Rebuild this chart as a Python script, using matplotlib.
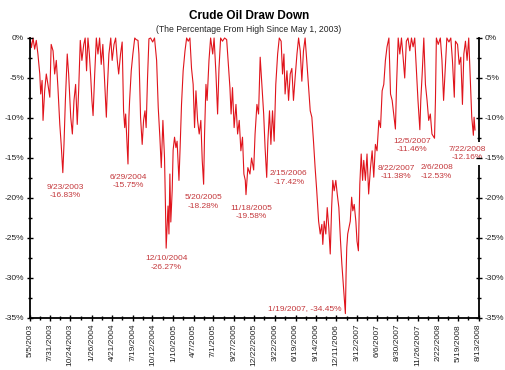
import pandas as pd
import matplotlib
matplotlib.use('Agg')
import matplotlib.pyplot as plt
from matplotlib.ticker import FixedLocator, MultipleLocator, FuncFormatter

plt.rcParams['font.family'] = ['Liberation Sans', 'DejaVu Sans']

# drawdown series (percent below running high)
dates = [
    '2003-05-05', '2003-05-11', '2003-05-18', '2003-05-25', '2003-06-01', '2003-06-08', '2003-06-16',
    '2003-06-20', '2003-06-26', '2003-06-30', '2003-07-07', '2003-07-14', '2003-07-21', '2003-07-29',
    '2003-08-04', '2003-08-12', '2003-08-19', '2003-08-26', '2003-09-02', '2003-09-10', '2003-09-16',
    '2003-09-23', '2003-09-28', '2003-10-04', '2003-10-12', '2003-10-18', '2003-10-27', '2003-11-03',
    '2003-11-10', '2003-11-17', '2003-11-24', '2003-11-30', '2003-12-07', '2003-12-14', '2003-12-22',
    '2003-12-28', '2004-01-03', '2004-01-09', '2004-01-15', '2004-01-21', '2004-01-26', '2004-01-31',
    '2004-02-07', '2004-02-14', '2004-02-21', '2004-02-28', '2004-03-06', '2004-03-13', '2004-03-21',
    '2004-03-28', '2004-04-01', '2004-04-08', '2004-04-16', '2004-04-22', '2004-04-30', '2004-05-07',
    '2004-05-14', '2004-05-20', '2004-05-28', '2004-06-04', '2004-06-10', '2004-06-15', '2004-06-19',
    '2004-06-23', '2004-06-29', '2004-07-03', '2004-07-06', '2004-07-13', '2004-07-20', '2004-07-28',
    '2004-08-03', '2004-08-11', '2004-08-15', '2004-08-22', '2004-08-29', '2004-09-04', '2004-09-10',
    '2004-09-15', '2004-09-21', '2004-09-27', '2004-10-04', '2004-10-13', '2004-10-21', '2004-10-30',
    '2004-11-06', '2004-11-13', '2004-11-19', '2004-11-26', '2004-12-03', '2004-12-07', '2004-12-10',
    '2004-12-18', '2004-12-22', '2004-12-26', '2004-12-30', '2005-01-05', '2005-01-09', '2005-01-15',
    '2005-01-21', '2005-01-26', '2005-02-03', '2005-02-08', '2005-02-14', '2005-02-21', '2005-03-01',
    '2005-03-08', '2005-03-15', '2005-03-22', '2005-03-29', '2005-04-05', '2005-04-11', '2005-04-17',
    '2005-04-24', '2005-05-01', '2005-05-08', '2005-05-14', '2005-05-20', '2005-05-24', '2005-05-30',
    '2005-06-04', '2005-06-12', '2005-06-19', '2005-06-28', '2005-07-04', '2005-07-12', '2005-07-19',
    '2005-07-25', '2005-08-01', '2005-08-09', '2005-08-18', '2005-08-27', '2005-09-02', '2005-09-10',
    '2005-09-15', '2005-09-21', '2005-09-28', '2005-10-06', '2005-10-13', '2005-10-20', '2005-10-27',
    '2005-11-03', '2005-11-09', '2005-11-15', '2005-11-18', '2005-11-26', '2005-12-05', '2005-12-12',
    '2005-12-21', '2005-12-27', '2006-01-04', '2006-01-11', '2006-01-18', '2006-01-25', '2006-02-02',
    '2006-02-08', '2006-02-15', '2006-02-20', '2006-02-27', '2006-03-05', '2006-03-12', '2006-03-19',
    '2006-03-26', '2006-04-03', '2006-04-10', '2006-04-18', '2006-04-24', '2006-04-30', '2006-05-05',
    '2006-05-13', '2006-05-20', '2006-05-27', '2006-06-03', '2006-06-10', '2006-06-17', '2006-06-25',
    '2006-07-02', '2006-07-09', '2006-07-16', '2006-07-23', '2006-07-30', '2006-08-06', '2006-08-14',
    '2006-08-21', '2006-08-28', '2006-09-04', '2006-09-11', '2006-09-18', '2006-09-26', '2006-10-03',
    '2006-10-10', '2006-10-14', '2006-10-20', '2006-10-27', '2006-11-02', '2006-11-09', '2006-11-15',
    '2006-11-21', '2006-11-26', '2006-12-02', '2006-12-09', '2006-12-15', '2006-12-22', '2006-12-29',
    '2007-01-04', '2007-01-11', '2007-01-19', '2007-01-22', '2007-01-25', '2007-01-29', '2007-02-03',
    '2007-02-09', '2007-02-15', '2007-02-20', '2007-02-26', '2007-03-05', '2007-03-10', '2007-03-16',
    '2007-03-22', '2007-03-28', '2007-04-03', '2007-04-08', '2007-04-15', '2007-04-22', '2007-04-29',
    '2007-05-07', '2007-05-14', '2007-05-21', '2007-05-28', '2007-06-04', '2007-06-12', '2007-06-19',
    '2007-06-26', '2007-07-03', '2007-07-10', '2007-07-17', '2007-07-25', '2007-08-01', '2007-08-08',
    '2007-08-22', '2007-08-27', '2007-09-03', '2007-09-10', '2007-09-17', '2007-09-24', '2007-10-01',
    '2007-10-08', '2007-10-15', '2007-10-23', '2007-10-30', '2007-11-06', '2007-11-13', '2007-11-20',
    '2007-11-27', '2007-12-05', '2007-12-09', '2007-12-15', '2007-12-22', '2007-12-29', '2008-01-05',
    '2008-01-12', '2008-01-19', '2008-01-26', '2008-02-06', '2008-02-10', '2008-02-14', '2008-02-22',
    '2008-03-02', '2008-03-09', '2008-03-16', '2008-03-23', '2008-03-30', '2008-04-08', '2008-04-16',
    '2008-04-23', '2008-05-01', '2008-05-06', '2008-05-15', '2008-05-22', '2008-05-29', '2008-06-05',
    '2008-06-11', '2008-06-18', '2008-06-25', '2008-07-02', '2008-07-09', '2008-07-15', '2008-07-22',
    '2008-07-25', '2008-07-29',
]
drawdown = [
    0.0, -1.2, 0.0, -1.4, -0.3, -2.0, -4.5,
    -7.0, -5.3, -10.3, -6.6, -4.5, -5.8, -7.4,
    -0.8, -1.6, -4.5, -2.8, -6.2, -10.8, -13.3,
    -16.83, -13.3, -7.8, -2.0, -4.5, -9.9, -12.0,
    -7.8, -5.8, -10.8, -6.6, -0.3, -2.8, -0.8,
    0.0, -4.1, 0.0, -2.0, -4.9, -7.8, -9.7,
    -4.5, 0.0, -2.0, 0.0, -3.3, -0.8, -5.8,
    -9.9, -6.6, -2.0, 0.0, -2.8, -0.8, 0.0,
    -2.8, -4.5, -2.0, -0.5, -9.1, -11.2, -9.5,
    -12.0, -15.75, -9.9, -7.8, -4.1, -2.0, 0.0,
    -0.2, -0.3, -2.0, -9.9, -13.3, -10.3, -9.1,
    -11.2, -5.0, -0.1, 0.0, -0.5, 0.0, -2.8,
    -8.7, -12.4, -16.2, -10.3, -15.0, -21.0, -26.27,
    -21.0, -24.5, -17.0, -23.0, -19.0, -14.0, -12.4,
    -13.7, -12.9, -17.8, -13.7, -8.3, -4.1, -1.6,
    0.0, -0.4, 0.0, -3.8, -5.8, -11.2, -6.6,
    -10.3, -12.0, -10.3, -15.3, -18.28, -12.0, -5.8,
    -7.8, -2.8, 0.0, -2.0, 0.0, -4.5, -9.5,
    -3.8, 0.0, -0.4, 0.0, -0.2, -2.8, -6.2,
    -9.5, -6.2, -11.2, -8.3, -12.0, -10.3, -14.1,
    -12.4, -17.0, -17.8, -19.58, -16.2, -17.0, -15.0,
    -16.5, -12.0, -8.3, -9.5, -2.4, -5.8, -9.5,
    -13.7, -17.42, -12.9, -9.1, -13.3, -9.1, -12.9,
    -5.8, -2.0, 0.0, -0.4, -4.5, -2.0, -7.0,
    -4.1, -7.8, -4.5, -3.8, -7.8, -5.0, -2.0,
    0.0, -1.6, -5.4, -1.6, 0.0, -2.8, -6.2,
    -9.1, -9.9, -12.9, -16.2, -19.1, -22.9, -24.5,
    -23.3, -25.8, -22.9, -24.5, -21.2, -23.8, -27.0,
    -21.2, -17.8, -19.1, -17.8, -19.5, -21.2, -25.3,
    -28.3, -31.2, -34.45, -29.5, -26.2, -24.5, -23.8,
    -22.9, -19.9, -21.6, -20.8, -22.9, -25.4, -26.6,
    -18.3, -14.5, -17.8, -15.3, -17.8, -14.5, -19.5,
    -16.2, -14.1, -17.4, -13.3, -14.1, -10.3, -11.2,
    -6.6, -5.8, -2.8, -1.1, 0.0, -7.0, -7.8,
    -11.38, -5.8, 0.0, -2.0, 0.0, -2.4, -5.0,
    -0.4, 0.0, -1.6, 0.0, -1.1, 0.0, -3.8,
    -7.8, -11.46, -7.8, -4.5, 0.0, -5.8, -7.8,
    -10.3, -9.5, -12.0, -12.53, -7.8, 0.0, -0.8,
    0.0, -2.8, -7.8, -3.8, 0.0, -0.5, 0.0,
    -2.8, -7.4, -0.4, -0.8, -3.3, -2.4, -8.3,
    -2.0, -0.4, -2.8, 0.0, -5.4, -9.9, -12.16,
    -9.9, -11.5,
]

tick_labels = ['5/5/2003', '7/31/2003', '10/24/2003', '1/26/2004', '4/21/2004', '7/19/2004',
               '10/12/2004', '1/10/2005', '4/7/2005', '7/1/2005', '9/27/2005', '12/22/2005',
               '3/22/2006', '6/19/2006', '9/14/2006', '12/11/2006', '3/12/2007', '6/6/2007',
               '8/30/2007', '11/26/2007', '2/22/2008', '5/19/2008', '8/13/2008']

# labelled lows
ann_dates = ['9/23/2003', '6/29/2004', '12/10/2004', '5/20/2005', '11/18/2005', '2/15/2006',
             '1/19/2007', '8/22/2007', '12/5/2007', '2/6/2008', '7/22/2008']
ann_values = [-16.83, -15.75, -26.27, -18.28, -19.58, -17.42, -34.45, -11.38, -11.46, -12.53, -12.16]
# label offsets in pixels (dx, dy) from the low
ann_offsets = [(2, -19), (0, -17.5), (0, -15), (-0.5, -18), (5, -18), (22, -0.5),
               (-3.5, 5.5), (1, -43.5), (-8, -16), (2, -34), (-6.5, -18)]

x = pd.to_datetime(dates)
ticks = pd.to_datetime(tick_labels, format='%m/%d/%Y')
ann_x = pd.to_datetime(ann_dates, format='%m/%d/%Y')

fig = plt.figure(figsize=(5.05, 3.70), dpi=100)
ax = fig.add_axes([30 / 505, 52 / 370, 448.5 / 505, 280 / 370])

ax.plot(x, drawdown, color='#e0141c', lw=0.8, clip_on=False, zorder=2)

ax.set_xlim(ticks[0], ticks[-1])
ax.set_ylim(-35, 0)

tick_nums = matplotlib.dates.date2num(ticks)
ax.xaxis.set_major_locator(FixedLocator(tick_nums))
ax.xaxis.set_minor_locator(FixedLocator((tick_nums[:-1] + tick_nums[1:]) / 2))
ax.set_xticklabels(tick_labels, rotation=90, fontsize=6, color='#222222')

ax.yaxis.set_major_locator(MultipleLocator(5))
ax.yaxis.set_minor_locator(MultipleLocator(2.5))
ax.yaxis.set_major_formatter(FuncFormatter(lambda v, p: f'{int(round(v))}%'))

ax.tick_params(axis='both', which='major', direction='inout', length=5, width=1.0,
               labelsize=6, labelcolor='#222222', pad=1.8)
ax.tick_params(axis='both', which='minor', direction='inout', length=3, width=1.0)
ax.tick_params(axis='y', which='both', right=True, labelright=True)
# keep tick labels above the white box of the last label; the spine stays under it
ax.yaxis.set_zorder(2.8)

ax.spines['top'].set_visible(False)
for s in ['left', 'right', 'bottom']:
    ax.spines[s].set_linewidth(1.3)

for d, v, lbl, (dx, dy) in zip(ann_x, ann_values, ann_dates, ann_offsets):
    if lbl == '1/19/2007':
        txt, ha = f'{lbl}, {v:.2f}%', 'right'
    else:
        txt, ha = f'{lbl}\n{v:.2f}%', 'center'
    kw = {'zorder': 2.7}
    if lbl == '7/22/2008':
        kw['bbox'] = dict(boxstyle='square,pad=0.45', fc='white', ec='none')
        kw['zorder'] = 2.6
    ax.annotate(txt, xy=(d, v), xytext=(dx, dy), textcoords='offset pixels',
                ha=ha, va='center', fontsize=6, color='#c4383c', linespacing=1.3,
                annotation_clip=False, **kw)

fig.text(0.493, 1 - 15.7 / 370, 'Crude Oil Draw Down', ha='center', va='center',
         fontsize=8.5, fontweight='bold')
fig.text(0.493, 1 - 29 / 370, '(The Percentage From High Since May 1, 2003)', ha='center',
         va='center', fontsize=6.2, color='#222222')

fig.savefig('out.png', dpi=100)
